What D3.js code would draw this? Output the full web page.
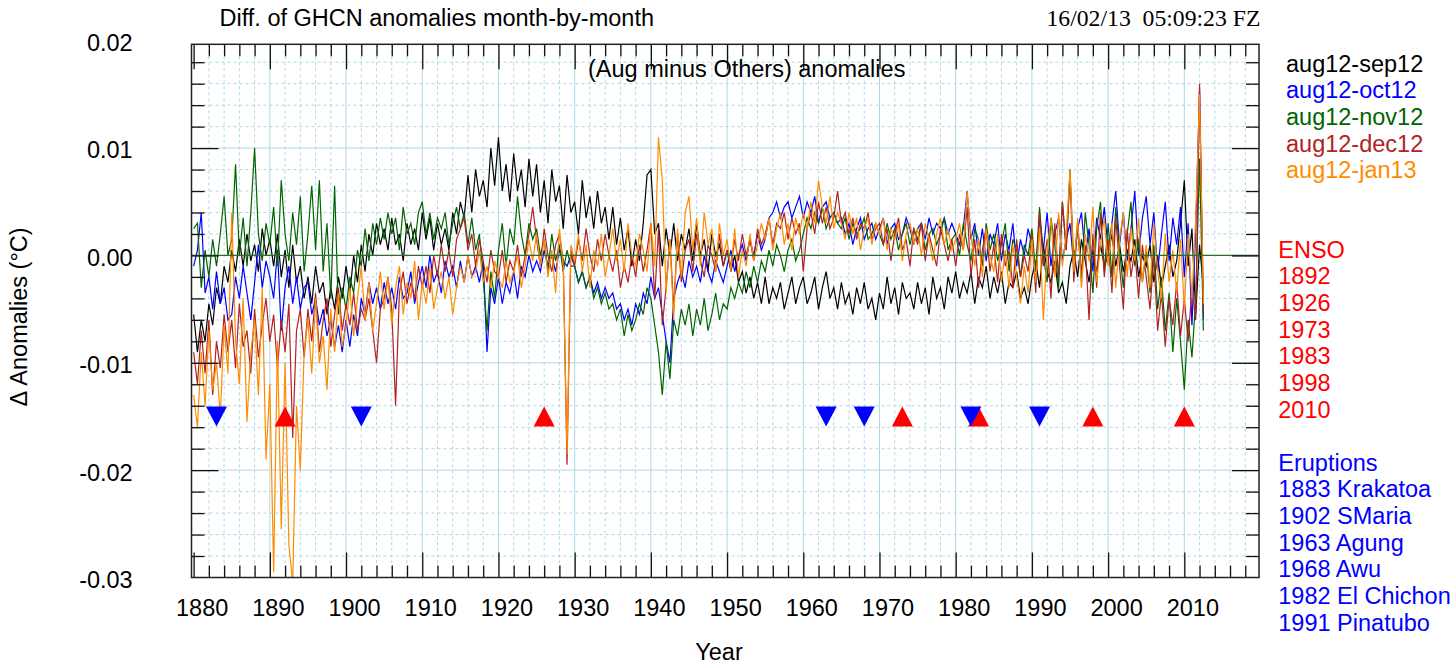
<!DOCTYPE html>
<html>
<head>
<meta charset="utf-8">
<title>Diff. of GHCN anomalies month-by-month</title>
<script src="https://d3js.org/d3.v7.min.js"></script>
<style>
  body { margin: 0; background: #fff; }
  text { font-family: "Liberation Sans", Arial, Helvetica, sans-serif; }
</style>
</head>
<body>
<script>
// values, one every half year from 1880.0, in units of 0.001 degC
var startYear = 1880, stepYear = 0.5;

var sep12 = [
  -5.5,-9.0,-6.0,-8.0,-4.5,-6.5,-3.0,-4.5,-1.0,-2.5,   // 1880
  0.5,-1.5,1.5,-1.0,2.0,-0.5,1.0,-1.5,2.5,0.0,
  1.5,-1.0,2.0,-2.0,0.5,-3.0,1.0,-2.5,-1.0,-4.0,       // 1890
  -2.0,-4.5,-1.0,-3.5,-2.5,-5.5,-3.0,-5.0,-2.0,-4.0,
  -1.0,-3.5,0.0,-2.5,1.0,-1.5,2.0,0.0,3.0,1.0,         // 1900
  2.5,0.5,3.5,1.0,2.0,-0.5,3.0,1.0,2.5,0.5,
  4.0,1.5,3.5,0.5,3.0,1.0,2.5,0.5,4.0,2.0,             // 1910
  5.0,3.5,7.5,4.0,8.0,5.5,7.0,4.5,10.0,6.5,
  11.0,6.0,8.5,5.0,9.5,6.0,8.0,4.5,9.0,5.5,            // 1920
  8.5,4.0,7.0,3.0,8.0,5.0,6.5,2.5,7.5,4.0,
  5.0,2.0,7.0,3.5,5.5,2.5,6.0,3.0,4.5,1.5,             // 1930
  4.5,1.0,3.5,0.5,2.5,-1.0,1.5,-0.5,3.0,7.5,
  8.0,2.0,3.0,-1.0,2.5,0.0,3.0,-0.5,2.0,0.5,           // 1940
  2.5,-0.5,3.0,0.0,1.5,-1.5,2.0,0.0,1.0,-1.0,
  0.5,-1.5,0.0,-2.5,-1.5,-3.5,-2.0,-4.0,-2.5,-4.5,     // 1950
  -2.0,-4.5,-3.0,-4.0,-2.5,-5.0,-3.5,-2.0,-4.5,-3.0,
  -2.0,-4.5,-3.5,-2.0,-5.0,-3.0,-1.5,-4.0,-3.0,-5.0,   // 1960
  -2.5,-4.5,-3.5,-5.5,-3.0,-4.5,-2.5,-5.0,-4.0,-6.0,
  -3.5,-5.0,-2.0,-4.5,-3.0,-5.5,-2.5,-4.0,-3.5,-5.0,   // 1970
  -2.5,-4.5,-3.0,-5.5,-2.0,-4.0,-3.0,-5.0,-2.0,-3.5,
  -1.5,-4.0,-2.5,-3.5,-1.5,-4.5,-2.0,-3.0,-1.0,-4.0,   // 1980
  -2.0,-3.5,-1.5,-4.5,-2.5,-3.0,-1.5,-4.0,-3.0,-4.5,
  -2.0,-0.5,-3.0,1.0,-1.5,-2.5,-0.5,-3.5,-2.5,-4.5,    // 1990
  -1.0,0.5,-2.0,1.5,-0.5,-2.5,0.5,-1.5,1.0,-1.0,
  0.0,2.0,-1.0,1.0,-1.5,0.5,-0.5,1.5,-2.0,0.0,         // 2000
  -1.0,1.0,-2.5,0.0,-3.0,-1.0,1.0,-2.0,-0.5,3.0,
  7.0,-1.0,2.5,-5.5,1.0,-3.0                           // 2010
];

var oct12 = [
  -1.0,0.5,4.0,-3.5,-2.0,-5.0,-1.5,-4.5,-3.0,-6.0,
  -5.5,-2.0,-4.0,-1.0,-3.5,-6.0,-2.5,1.0,-3.0,-0.5,
  -2.0,-4.0,0.5,-7.0,-3.0,-1.0,-4.5,-2.0,-5.0,-3.0,
  -2.5,-5.5,-4.0,-6.5,-5.0,-7.5,-6.0,-8.5,-6.5,-9.0,
  -6.0,-8.5,-5.5,-7.5,-4.0,-5.5,-2.5,-4.5,-3.0,-5.0,
  -2.5,-4.5,-3.0,-5.0,-2.0,-4.0,-3.5,-1.5,-4.5,-2.5,
  -1.0,-3.0,0.0,-2.5,-1.5,-3.5,-0.5,-2.0,-1.0,-3.0,
  -0.5,-2.5,0.0,-2.0,-1.0,-2.5,-0.5,-9.0,-3.0,-4.5,
  -2.0,-4.5,-2.5,-3.5,-1.5,-4.0,-1.0,-2.0,0.0,-1.5,
  -0.5,-1.5,0.5,-1.0,0.0,-1.5,0.5,-0.5,-1.0,0.0,
  -1.0,-2.5,-1.5,-3.0,-2.0,-3.5,-2.5,-4.0,-3.0,-4.0,
  -3.5,-5.0,-4.5,-6.0,-5.0,-6.5,-4.5,-5.5,-3.5,-4.5,
  -2.0,-4.0,-3.0,-5.5,-8.0,-10.0,-4.0,-2.5,-1.5,-3.0,
  -0.5,-2.0,-1.0,-2.5,0.0,-1.5,-2.5,-0.5,-1.5,-2.5,
  -1.0,0.5,-1.5,0.0,1.0,-0.5,1.5,0.0,2.0,0.5,
  1.5,3.5,4.0,5.0,3.5,4.5,5.0,3.5,4.5,5.5,
  3.5,5.0,4.0,5.5,3.0,4.5,5.0,3.5,4.0,3.0,
  3.5,2.0,3.0,1.0,2.5,3.5,1.5,2.5,3.0,1.5,
  2.5,3.5,1.0,2.5,3.0,1.5,2.0,3.5,2.5,1.0,
  2.5,3.0,1.5,3.5,2.0,3.0,2.5,3.5,2.0,3.0,
  2.0,1.0,2.5,6.0,1.5,3.0,0.0,2.5,-0.5,2.0,
  1.0,3.0,-0.5,2.0,0.5,3.0,-1.0,1.5,0.0,2.5,
  1.0,-1.5,3.5,0.5,4.0,-1.0,2.0,3.5,-0.5,1.5,
  3.0,-1.0,2.5,4.0,0.0,2.5,-1.5,3.5,1.5,4.5,
  0.5,3.0,6.0,1.0,4.0,-0.5,2.5,6.0,0.0,3.5,
  5.5,1.0,4.0,-1.5,2.0,5.0,-0.5,3.5,1.0,4.5,
  -2.0,3.0,-6.5,2.5,15.5,-6.0
];

var nov12 = [
  2.5,3.0,-3.0,0.5,-2.0,1.5,-1.0,2.0,5.5,0.0,
  1.5,8.5,0.0,3.5,-1.0,4.0,10.0,2.0,-0.5,3.0,
  1.0,4.5,-1.0,7.0,2.0,-0.5,4.0,1.0,5.5,-1.5,
  2.0,6.5,0.5,7.0,-1.5,3.0,-4.0,6.5,-5.5,-3.0,
  -5.0,-2.0,-3.5,0.5,-1.0,2.5,-0.5,3.0,1.0,3.5,
  1.5,4.0,2.0,3.5,0.5,4.5,2.0,3.0,1.0,4.0,
  5.0,2.0,4.0,1.5,3.5,2.5,4.0,1.0,3.0,4.5,
  2.5,4.0,1.0,3.5,0.5,2.0,-2.0,-7.0,-1.5,-4.0,
  0.5,3.0,-1.0,2.5,1.0,5.5,2.0,0.0,3.0,1.5,
  2.5,0.0,1.5,-1.5,2.0,-0.5,1.0,-1.5,0.5,-1.0,
  -1.0,-2.5,-1.5,-3.0,-2.0,-4.0,-3.0,-4.5,-3.5,-5.0,
  -4.5,-6.0,-5.0,-7.5,-5.5,-7.0,-6.0,-4.5,-5.5,-3.0,
  -4.0,-6.5,-9.0,-13.0,-8.0,-11.5,-6.0,-7.5,-5.0,-6.5,
  -4.5,-7.5,-5.0,-6.5,-4.0,-7.0,-5.5,-3.5,-6.0,-4.5,
  -5.0,-3.0,-4.0,-2.5,-3.5,-1.5,-3.0,-1.0,-2.5,-0.5,
  -1.5,0.5,-1.0,1.0,0.0,-1.5,0.5,1.5,-0.5,0.5,
  2.0,3.5,2.5,4.0,3.0,4.5,2.5,3.5,4.0,3.0,
  2.5,3.5,1.5,3.0,2.0,2.5,3.5,1.5,2.0,3.0,
  2.0,1.0,3.0,1.5,2.5,0.5,2.0,3.0,1.0,2.5,
  1.5,3.0,0.5,2.0,2.5,1.0,2.0,3.5,0.5,1.5,
  2.0,0.0,3.0,1.0,-0.5,2.5,1.5,-1.0,3.0,0.5,
  2.0,-0.5,1.0,3.0,-1.5,1.5,0.5,-2.0,1.0,0.0,
  2.5,-1.5,4.5,0.0,-2.5,3.5,1.0,-3.0,5.0,0.5,
  8.0,-1.0,3.0,-2.5,4.0,1.0,-3.5,2.5,5.0,-1.5,
  3.0,-2.0,4.5,0.5,-3.0,2.0,5.0,-1.0,1.5,-2.5,
  0.5,-3.5,1.0,-5.0,-2.0,-7.0,-3.5,-9.0,-4.0,-8.0,
  -12.5,-6.0,-9.5,-4.0,9.0,-7.0
];

var dec12 = [
  -9.0,-12.0,-7.0,-11.0,-6.0,-13.0,-8.0,-10.5,-5.5,-9.0,
  -6.0,-10.5,-4.5,-8.5,-7.0,-11.0,-5.0,-9.5,-6.5,-4.0,
  -8.0,-5.5,-10.5,-6.0,-9.0,-4.5,-17.0,-7.0,-5.0,-9.5,
  -5.0,-8.0,-3.5,-9.0,-6.0,-4.0,-8.5,-5.5,-3.0,-7.0,
  -4.5,-6.5,-3.5,-7.0,-5.0,-6.0,-4.0,-7.0,-10.0,-5.0,
  -4.0,-2.0,-5.0,-14.0,-3.5,-1.5,-4.5,-2.5,-4.0,-1.0,
  -3.0,-1.0,-3.5,0.0,-2.0,1.0,-1.5,0.5,-2.0,1.5,
  2.5,3.5,0.5,2.0,-1.0,1.5,-0.5,-2.5,0.5,-1.5,
  -2.0,0.5,-2.5,-0.5,-1.5,1.0,-2.0,0.0,2.0,4.5,
  1.5,-1.0,2.5,0.0,-1.5,1.0,2.0,-0.5,-19.5,0.5,
  -1.0,1.5,-0.5,2.5,0.0,-1.5,1.5,-0.5,2.0,0.0,
  -1.5,0.5,-3.0,-1.0,-2.5,0.0,-2.0,1.0,-1.5,0.5,
  3.0,-4.0,2.5,-6.5,-3.0,1.5,-5.0,2.0,-2.5,0.5,
  1.5,-1.5,2.0,-0.5,-2.0,1.0,0.0,-1.5,2.0,-1.0,
  0.5,-1.0,1.5,-0.5,2.0,0.0,1.5,-0.5,2.5,1.0,
  2.0,3.5,1.0,3.0,2.5,4.0,1.5,3.5,2.0,3.0,
  -1.5,2.5,4.0,2.0,5.0,3.0,4.5,2.5,3.5,6.0,
  3.0,4.0,2.0,3.5,1.5,3.0,2.5,4.0,1.5,2.5,
  3.0,1.0,2.5,-0.5,2.0,3.5,0.5,1.5,-1.0,2.5,
  1.0,3.0,-0.5,2.0,0.5,-1.0,2.5,1.0,-0.5,1.5,
  -1.0,2.0,0.5,4.5,-2.0,1.5,-3.0,0.5,2.5,-1.5,
  1.0,-2.5,2.0,-1.0,0.5,-3.0,1.5,-2.0,0.0,-1.5,
  2.0,-3.5,4.0,-1.0,1.5,-4.0,3.0,-2.0,5.0,0.5,
  7.5,-2.5,3.0,-1.5,1.0,-6.0,2.0,-3.0,4.0,-2.0,
  1.5,-3.5,3.5,-1.0,-5.0,2.5,-2.0,0.5,-4.0,1.0,
  -2.0,-5.0,0.0,-7.0,-3.5,-8.5,-4.0,-6.5,-2.5,-7.5,
  -4.0,-8.0,-3.0,-6.0,16.0,-5.0
];

var jan13 = [
  -13.0,-16.0,-9.0,-14.0,-7.0,-12.5,-10.0,-15.0,-6.5,-11.0,
  4.0,-8.0,-12.0,-4.0,-15.5,-9.0,-6.0,-13.0,-3.0,-19.0,
  -12.0,-29.5,-8.0,-25.5,-10.0,-27.0,-30.5,-14.0,-20.0,-9.0,
  -6.0,-11.0,-4.0,-10.0,-7.5,-12.5,-5.0,-9.0,-3.5,-8.5,
  -6.5,-3.0,-7.5,-4.0,-1.0,-6.0,-2.5,-7.0,-4.5,-1.5,
  -5.0,-2.0,-6.5,-3.0,-1.0,-5.5,-2.5,-4.0,-0.5,-6.0,
  -2.5,-4.5,-1.0,-5.0,-3.0,-1.5,-4.0,-2.0,-5.5,-3.0,
  -1.0,-2.5,0.0,-2.0,-1.5,0.5,-2.5,-1.0,-3.0,-0.5,
  -2.0,-3.0,-0.5,-2.5,-1.5,0.0,-3.0,-1.0,1.5,-0.5,
  2.0,-1.0,1.5,-2.0,0.5,-3.5,2.5,-1.0,-18.5,1.0,
  -0.5,2.0,-1.5,1.0,-3.0,0.5,-1.0,2.0,-2.0,0.0,
  2.5,-0.5,1.5,-1.5,3.0,0.0,-1.0,2.0,0.5,-1.5,
  3.0,-1.0,11.0,7.0,-3.5,1.5,-6.0,2.5,-2.0,4.0,
  5.5,0.5,3.5,-1.0,4.0,1.0,2.5,-1.5,3.0,0.0,
  1.5,-1.5,2.5,-2.0,0.5,-1.0,2.0,-0.5,1.0,3.0,
  1.5,3.5,0.5,2.5,4.0,1.0,3.0,0.5,3.5,2.0,
  4.0,2.5,5.0,3.0,7.0,4.5,3.0,5.5,2.5,4.0,
  3.0,1.5,4.0,2.0,3.5,0.5,2.5,3.5,1.0,3.0,
  2.0,3.5,0.5,2.5,1.5,3.0,-0.5,2.0,3.0,1.0,
  2.5,0.0,3.0,1.5,-0.5,2.0,3.5,1.0,2.5,0.5,
  1.5,3.0,0.5,6.0,2.0,-1.0,1.5,-2.0,2.5,0.0,
  -1.5,2.0,-2.5,0.5,-3.0,1.0,-2.0,-4.5,-1.0,-3.5,
  1.5,-2.5,2.5,-6.0,0.5,3.5,-2.0,4.0,-1.0,2.0,
  8.0,-1.5,3.5,-3.0,2.0,-0.5,4.5,-2.5,1.0,3.5,
  -1.0,3.0,-3.0,1.5,4.0,-2.0,2.5,-0.5,3.5,-2.5,
  1.0,-3.0,3.0,-1.5,-4.0,2.0,-2.5,0.5,-3.5,1.5,
  -5.0,2.0,-4.0,3.5,15.0,-4.5
];

var seriesNames = ["aug12-sep12", "aug12-oct12", "aug12-nov12", "aug12-dec12", "aug12-jan13"];
var seriesValues = [sep12, oct12, nov12, dec12, jan13];
var seriesColors = ["#000000", "#0000ff", "#006400", "#b22222", "#ff8c00"];

var ensoYears = [1892, 1926, 1973, 1983, 1998, 2010];
var eruptionYears = [1883, 1902, 1963, 1968, 1982, 1991];
var eruptionNames = ["Krakatoa", "SMaria", "Agung", "Awu", "El Chichon", "Pinatubo"];
var markerLevel = -0.015;

var xTickYears = [1880, 1890, 1900, 1910, 1920, 1930, 1940, 1950, 1960, 1970, 1980, 1990, 2000, 2010];
var yTickValues = [0.02, 0.01, 0.0, -0.01, -0.02, -0.03];
var yTickLabels = ["0.02", "0.01", "0.00", "-0.01", "-0.02", "-0.03"];

// layout
var width = 1456, height = 668;
var plot = { left: 191.5, right: 1259, top: 44.3, bottom: 577.5 };
var fontSize = 23.5;

var svg = d3.select("body").append("svg")
  .attr("width", width).attr("height", height)
  .style("background", "#fff");

var x = d3.scaleLinear().domain([1879.72, 2019.8]).range([plot.left, plot.right]);
var y = d3.scaleLinear().domain([-0.03, 0.01967]).range([plot.bottom, plot.top]);

svg.append("defs").append("clipPath").attr("id", "clip")
  .append("rect")
  .attr("x", plot.left).attr("y", plot.top)
  .attr("width", plot.right - plot.left).attr("height", plot.bottom - plot.top);

// grid
var minorYears = d3.range(1882, 2019, 2).filter(function(d) { return d % 10 !== 0; });
var minorVals = d3.range(-14, 10).filter(function(k) { return k % 5 !== 0; }).map(function(k) { return k * 0.002; });
var majorVals = [0.01, -0.01, -0.02];

var grid = svg.append("g").attr("stroke", "#add8e6").attr("stroke-width", 1);
grid.selectAll(".vmin").data(minorYears).enter().append("line")
  .attr("x1", x).attr("x2", x).attr("y1", plot.top).attr("y2", plot.bottom)
  .attr("stroke-dasharray", "3,3");
grid.selectAll(".hmin").data(minorVals).enter().append("line")
  .attr("x1", plot.left).attr("x2", plot.right).attr("y1", y).attr("y2", y)
  .attr("stroke-dasharray", "3,3");
grid.selectAll(".vmaj").data(xTickYears.slice(1)).enter().append("line")
  .attr("x1", x).attr("x2", x).attr("y1", plot.top).attr("y2", plot.bottom);
grid.selectAll(".hmaj").data(majorVals).enter().append("line")
  .attr("x1", plot.left).attr("x2", plot.right).attr("y1", y).attr("y2", y);

// series lines
var line = d3.line()
  .x(function(d, i) { return x(startYear + i * stepYear); })
  .y(function(d) { return y(d / 1000); });

svg.append("g").attr("clip-path", "url(#clip)")
  .selectAll("path").data(seriesValues).enter().append("path")
  .attr("fill", "none")
  .attr("stroke", function(d, i) { return seriesColors[i]; })
  .attr("stroke-width", 1.2)
  .attr("d", line);

// zero line
svg.append("line")
  .attr("x1", plot.left).attr("x2", plot.right)
  .attr("y1", y(0)).attr("y2", y(0))
  .attr("stroke", "#2a6e2a").attr("stroke-width", 1.3);

// ticks on all four sides, pointing inward
function tickAxis(axis, size, values, tx, ty) {
  var g = svg.append("g")
    .attr("transform", "translate(" + tx + "," + ty + ")")
    .call(axis.tickValues(values).tickSize(size).tickSizeOuter(0).tickFormat(""));
  g.select(".domain").remove();
  g.selectAll("line").attr("stroke", "#111").attr("stroke-width", 1.3);
}
var minorTickYears = d3.range(1882, 2020, 2).filter(function(d) { return d % 10 !== 0; });
var majorTickYears = d3.range(1880, 2020, 10);
var yMinorTicks = d3.range(-14, 10).filter(function(k) { return k % 5 !== 0; }).map(function(k) { return k * 0.002; });
var yMajorTicks = [0.01, 0.0, -0.01, -0.02];

tickAxis(d3.axisBottom(x), -12, minorTickYears, 0, plot.bottom);
tickAxis(d3.axisBottom(x), -25, majorTickYears, 0, plot.bottom);
tickAxis(d3.axisTop(x), -12, minorTickYears, 0, plot.top);
tickAxis(d3.axisTop(x), -25, majorTickYears, 0, plot.top);
tickAxis(d3.axisLeft(y), -13, yMinorTicks, plot.left, 0);
tickAxis(d3.axisLeft(y), -27, yMajorTicks, plot.left, 0);
tickAxis(d3.axisRight(y), -13, yMinorTicks, plot.right, 0);
tickAxis(d3.axisRight(y), -27, yMajorTicks, plot.right, 0);

// frame
svg.append("rect")
  .attr("x", plot.left).attr("y", plot.top)
  .attr("width", plot.right - plot.left).attr("height", plot.bottom - plot.top)
  .attr("fill", "none").attr("stroke", "#222").attr("stroke-width", 1.5);

// tick labels
var xLab = svg.append("g")
  .attr("transform", "translate(0," + plot.bottom + ")")
  .call(d3.axisBottom(x).tickValues(xTickYears).tickSize(0).tickPadding(21.5).tickFormat(d3.format("d")));
xLab.select(".domain").remove();
xLab.selectAll("text")
  .attr("dx", 8)
  .attr("font-size", fontSize)
  .attr("font-family", "Liberation Sans, Arial, sans-serif")
  .attr("fill", "#000");

var yLab = svg.append("g")
  .attr("transform", "translate(" + plot.left + ",0)")
  .call(d3.axisLeft(y).tickValues(yTickValues).tickSize(0).tickPadding(58.8)
    .tickFormat(function(d, i) { return yTickLabels[i]; }));
yLab.select(".domain").remove();
yLab.selectAll("text")
  .attr("dy", "0.42em")
  .attr("font-size", fontSize)
  .attr("font-family", "Liberation Sans, Arial, sans-serif")
  .attr("fill", "#000");

// ENSO (up) and eruption (down) markers
svg.selectAll(".enso").data(ensoYears).enter().append("path")
  .attr("fill", "#ff0000")
  .attr("d", function(d) {
    var cx = x(d), cy = y(markerLevel);
    return "M" + (cx - 10.5) + "," + (cy + 10) + "L" + (cx + 10.5) + "," + (cy + 10) + "L" + cx + "," + (cy - 10) + "Z";
  });
svg.selectAll(".erupt").data(eruptionYears).enter().append("path")
  .attr("fill", "#0000ff")
  .attr("d", function(d) {
    var cx = x(d), cy = y(markerLevel);
    return "M" + (cx - 10.5) + "," + (cy - 10) + "L" + (cx + 10.5) + "," + (cy - 10) + "L" + cx + "," + (cy + 10) + "Z";
  });

// titles
svg.append("text").attr("x", 219.5).attr("y", 26.3)
  .attr("font-size", fontSize).text("Diff. of GHCN anomalies month-by-month");
svg.append("text").attr("x", 1046.5).attr("y", 26.3)
  .attr("font-size", 23.7)
  .style("font-family", "'Liberation Serif', 'Times New Roman', serif")
  .style("white-space", "pre")
  .text("16/02/13  05:09:23 FZ");
svg.append("text").attr("x", 588).attr("y", 77.3)
  .attr("font-size", fontSize).text("(Aug minus Others) anomalies");
svg.append("text").attr("x", 719).attr("y", 660)
  .attr("text-anchor", "middle").attr("font-size", fontSize).text("Year");
svg.append("text")
  .attr("transform", "translate(27,317) rotate(-90)")
  .attr("text-anchor", "middle").attr("font-size", fontSize)
  .text("\u0394 Anomalies (\u00B0C)");

// legend
svg.selectAll(".leg").data(seriesNames).enter().append("text")
  .attr("x", 1286).attr("y", function(d, i) { return 71.7 + i * 26.67; })
  .attr("font-size", fontSize)
  .attr("fill", function(d, i) { return seriesColors[i]; })
  .text(function(d) { return d; });

var ensoLines = ["ENSO"].concat(ensoYears.map(String));
svg.selectAll(".ensoLab").data(ensoLines).enter().append("text")
  .attr("x", 1278.3).attr("y", function(d, i) { return 257.7 + i * 26.67; })
  .attr("font-size", fontSize).attr("fill", "#ff0000")
  .text(function(d) { return d; });

var eruptLines = ["Eruptions"].concat(eruptionYears.map(function(d, i) { return d + " " + eruptionNames[i]; }));
svg.selectAll(".eruptLab").data(eruptLines).enter().append("text")
  .attr("x", 1278.3).attr("y", function(d, i) { return 470.7 + i * 26.67; })
  .attr("font-size", fontSize).attr("fill", "#0000ff")
  .text(function(d) { return d; });
</script>
</body>
</html>
